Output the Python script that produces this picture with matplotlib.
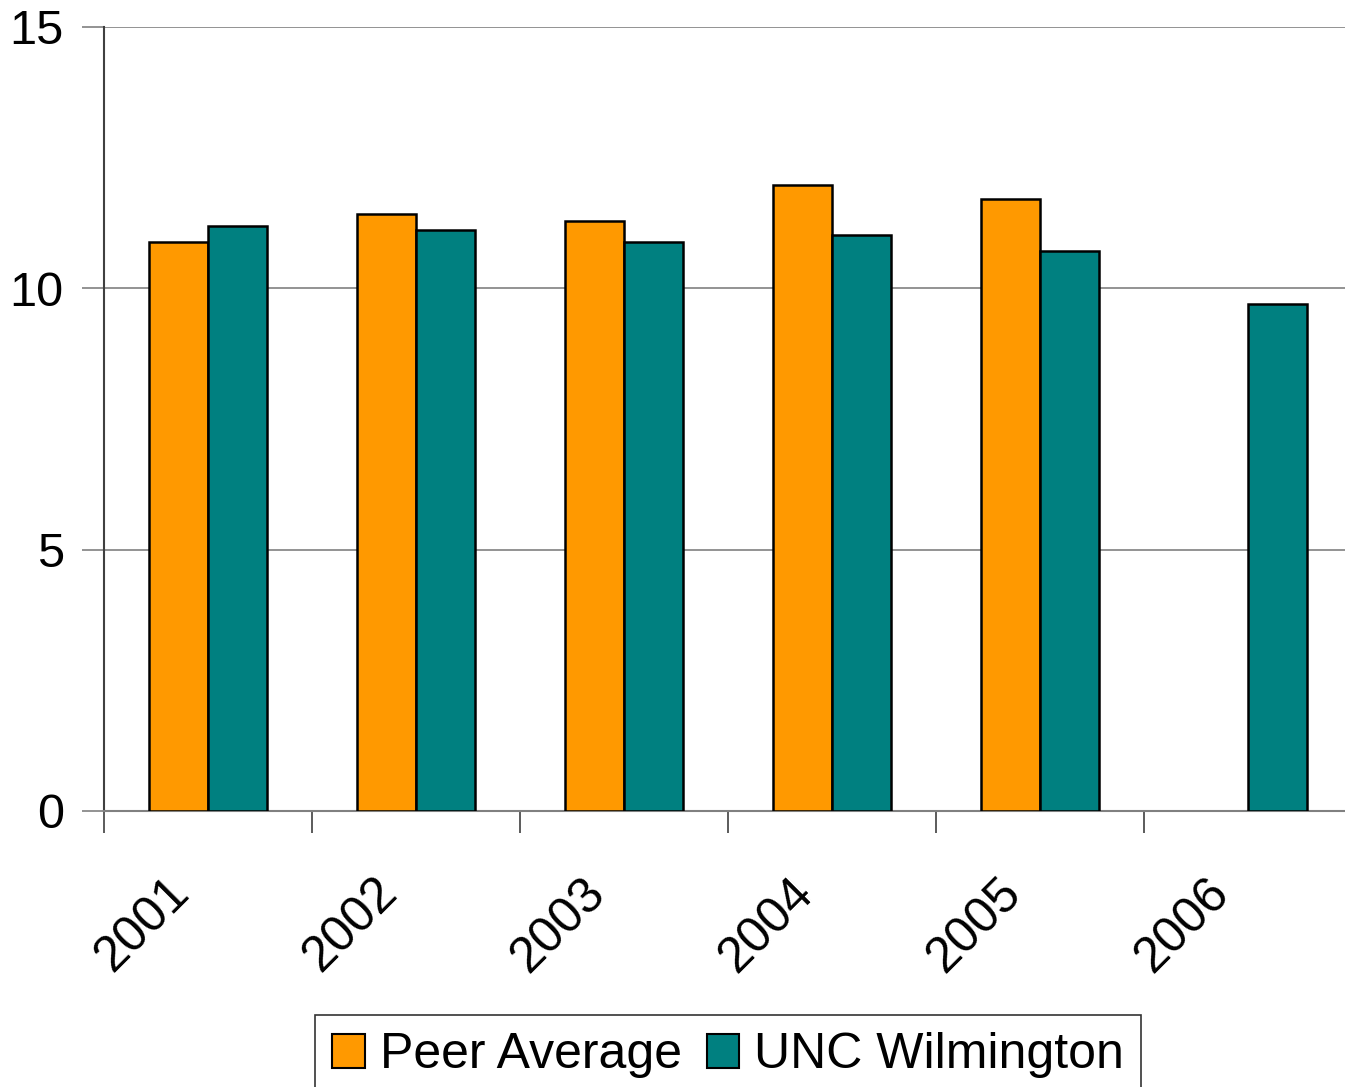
import numpy as np
import matplotlib.pyplot as plt
from matplotlib.transforms import ScaledTranslation

plt.rcParams['font.family'] = ['Liberation Sans', 'DejaVu Sans']

years = ['2001', '2002', '2003', '2004', '2005', '2006']
peer_avg = [10.89, 11.42, 11.29, 11.98, 11.71, np.nan]
unc_wilm = [11.19, 11.12, 10.89, 11.02, 10.71, 9.70]

W, H = 1345, 1087
fig = plt.figure(figsize=(W / 100, H / 100), dpi=100)
ax = fig.add_axes([104 / W, 1 - 811 / H, (W - 104) / W, (811 - 27) / H])

x = np.arange(len(years))
bw = 0.285
ax.bar(x - bw / 2, peer_avg, bw, color='#FF9900', edgecolor='black', linewidth=1.8,
       label='Peer Average', zorder=3)
ax.bar(x + bw / 2, unc_wilm, bw, color='#008080', edgecolor='black', linewidth=1.8,
       label='UNC Wilmington', zorder=3)

ax.set_ylim(0, 15)
ax.set_xlim(-0.5, -0.5 + (W - 104) / 208)
ax.set_yticks([0, 5, 10, 15])
ax.yaxis.grid(True, color='#808080', linewidth=1.2, zorder=0)

# category labels at centers, tick marks at boundaries
ax.set_xticks(x)
ax.set_xticklabels(years, rotation=45, ha='right', rotation_mode='anchor', fontsize=36)
ax.tick_params(axis='x', which='major', length=0, pad=42)
shift = ScaledTranslation(-0.42, 0, fig.dpi_scale_trans)
for lbl in ax.get_xticklabels():
    lbl.set_transform(lbl.get_transform() + shift)
ax.set_xticks(np.arange(len(years)) - 0.5, minor=True)
ax.tick_params(axis='x', which='minor', length=16, width=1.2, color='#404040', direction='out')
ax.tick_params(axis='y', length=16, width=1.2, color='#808080', labelsize=35, pad=13)

for s in ['top', 'right']:
    ax.spines[s].set_visible(False)
ax.spines['left'].set_color('#404040')
ax.spines['left'].set_linewidth(1.5)
ax.spines['bottom'].set_color('#808080')
ax.spines['bottom'].set_linewidth(1.5)

leg = fig.legend(loc='upper center', bbox_to_anchor=(728 / W, 1 - 1015 / H), ncol=2,
                 fontsize=36, frameon=True, fancybox=False, edgecolor='black',
                 handlelength=0.65, handleheight=0.65, handletextpad=0.3,
                 columnspacing=0.5, borderpad=0.35, borderaxespad=0)
leg.get_frame().set_linewidth(1.2)
for h in leg.legend_handles:
    h.set_linewidth(1.5)

fig.savefig('out.png', dpi=100)
